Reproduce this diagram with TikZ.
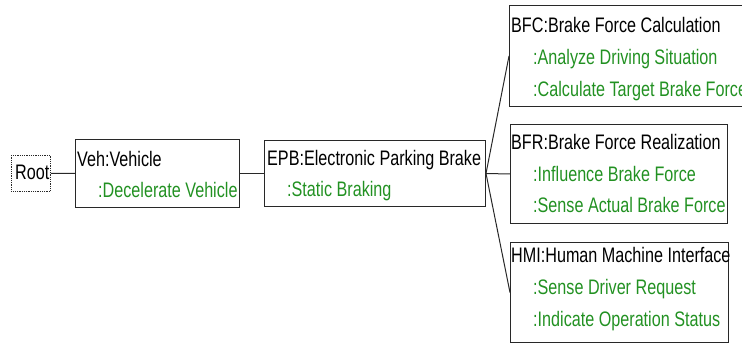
\documentclass[tikz,border=0pt]{standalone}
\usepackage{fontspec}
\setmainfont{Liberation Sans}[FakeStretch=0.77]
\definecolor{fgreen}{RGB}{34,145,34}
\definecolor{boxline}{RGB}{40,40,40}
\begin{document}
\begin{tikzpicture}[x=1pt,y=-1pt,
  box/.style={draw=boxline,line width=1pt,anchor=north west,inner sep=0pt},
  rootbox/.style={draw=boxline,line width=0.8pt,dash pattern=on 0.9pt off 0.9pt,anchor=north west,inner sep=0pt},
  title/.style={anchor=base west,inner sep=0pt,text=black,font=\fontsize{21}{25}\selectfont},
  func/.style={anchor=base west,inner sep=0pt,text=fgreen,font=\fontsize{21}{25}\selectfont},
  conn/.style={draw=boxline,line width=1pt}]
\useasboundingbox (0,0) rectangle (742,344);
\clip (0,0) rectangle (742,344);
% boxes
\node[rootbox,minimum width=39pt,minimum height=36pt] (root) at (11,155) {};
\node[box,minimum width=164pt,minimum height=68pt] (veh) at (75,139) {};
\node[box,minimum width=221pt,minimum height=66pt] (epb) at (264,140) {};
\node[box,minimum width=240pt,minimum height=101pt] (bfc) at (509,5) {};
\node[box,minimum width=217pt,minimum height=99pt] (bfr) at (510,124) {};
\node[box,minimum width=218pt,minimum height=100pt] (hmi) at (510,242) {};
% texts
\node[title] (troot) at (15,180) {Root};
\node[title] (tveh) at (77,167) {Veh:Vehicle};
\node[func] (fveh) at (98,198) {:Decelerate Vehicle};
\node[title] (tepb) at (267,166) {EPB:Electronic Parking Brake};
\node[func] (fepb) at (287,197) {:Static Braking};
\node[title] (tbfc) at (511,33) {BFC:Brake Force Calculation};
\node[func] (fbfc1) at (533,65) {:Analyze Driving Situation};
\node[func] (fbfc2) at (533,97) {:Calculate Target Brake Force};
\node[title] (tbfr) at (511,150) {BFR:Brake Force Realization};
\node[func] (fbfr1) at (533,182) {:Influence Brake Force};
\node[func] (fbfr2) at (533,213) {:Sense Actual Brake Force};
\node[title] (thmi) at (511,263) {HMI:Human Machine Interface};
\node[func] (fhmi1) at (533,295) {:Sense Driver Request};
\node[func] (fhmi2) at (533,327) {:Indicate Operation Status};
% connectors
\draw[conn] (root.east) -- (veh.west);
\draw[conn] (veh.east) -- (epb.west);
\draw[conn] (epb.east) -- (bfc.west);
\draw[conn] (epb.east) -- (bfr.west);
\draw[conn] (epb.east) -- (hmi.west);
\end{tikzpicture}
\end{document}
